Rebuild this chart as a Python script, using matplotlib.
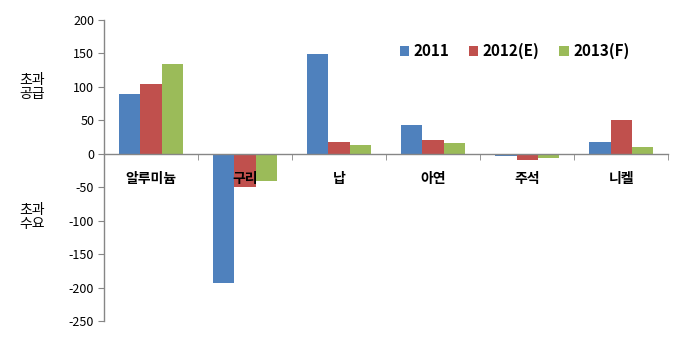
import matplotlib
matplotlib.use("Agg")
import matplotlib.pyplot as plt
import numpy as np

plt.rcParams['font.family'] = ['Noto Sans CJK KR', 'DejaVu Sans']

categories = ['알루미늄', '구리', '납', '아연', '주석', '니켈']
series_names = ['2011', '2012(E)', '2013(F)']
v2011 = [89, -193, 149, 43, -4, 18]
v2012 = [104, -50, 18, 21, -10, 51]
v2013 = [135, -41, 13, 16, -7, 10]
colors = ['#4F81BD', '#C0504D', '#9BBB59']
yticks = [-250, -200, -150, -100, -50, 0, 50, 100, 150, 200]

fig = plt.figure(figsize=(6.87, 3.58), dpi=100)
ax = fig.add_axes([0.1514, 0.1034, 0.8210, 0.8406])

x = np.arange(len(categories))
w = 0.224
for i, (vals, name) in enumerate(zip([v2011, v2012, v2013], series_names)):
    ax.bar(x + (i - 1) * w, vals, width=w, color=colors[i], label=name)

ax.set_xlim(-0.5, len(categories) - 0.5)
ax.set_ylim(-250, 200)
ax.set_yticks(yticks)
ax.set_yticklabels([str(t) for t in yticks], fontsize=9)

ax.spines['top'].set_visible(False)
ax.spines['right'].set_visible(False)
ax.spines['bottom'].set_position(('data', 0))
for s in ['left', 'bottom']:
    ax.spines[s].set_color('#868686')
    ax.spines[s].set_linewidth(1.0)

ax.tick_params(axis='y', direction='out', length=4, color='#868686', pad=3)
ax.set_xticks(x)
ax.set_xticklabels(categories, fontsize=10, fontweight='bold')
ax.tick_params(axis='x', which='major', length=0, pad=13)
ax.set_xticks(np.arange(len(categories) + 1) - 0.5, minor=True)
ax.tick_params(axis='x', which='minor', direction='out', length=4, color='#868686')

fig.text(0.047, 0.757, '초과\n공급', ha='center', va='center', fontsize=10, linespacing=1.05)
fig.text(0.047, 0.394, '초과\n수요', ha='center', va='center', fontsize=10, linespacing=1.05)

leg = ax.legend(loc='center', bbox_to_anchor=(0.749, 0.857), bbox_transform=fig.transFigure,
                ncol=3, frameon=False, handlelength=0.6, handleheight=0.6,
                handletextpad=0.3, columnspacing=1.3,
                prop={'size': 11, 'weight': 'bold'})

fig.savefig('out.png', dpi=100)
